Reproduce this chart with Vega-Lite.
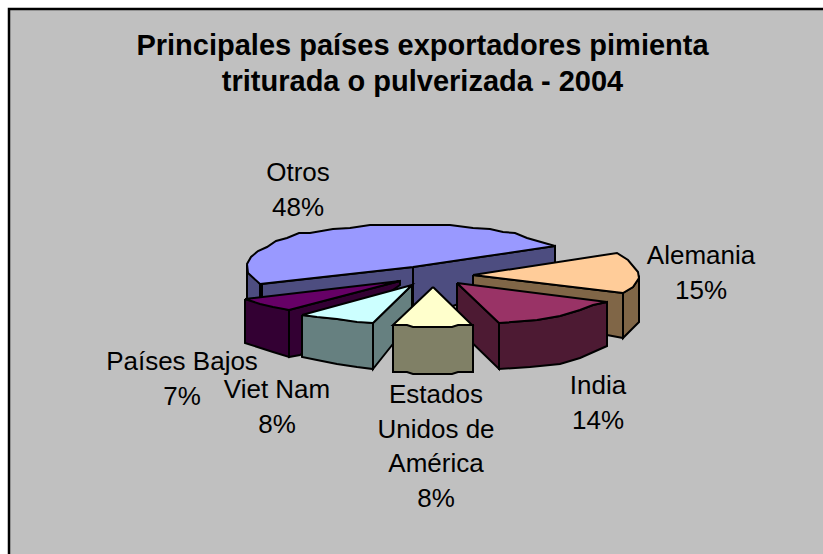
{
"$schema":"https://vega.github.io/schema/vega-lite/v6.json",
"width":823,"height":554,"padding":0,"autosize":"none","background":"white",
"view":{"stroke":null},
"config":{"font":"Liberation Sans"},
"title":{"text":["Principales países exportadores pimienta","triturada o pulverizada - 2004"],"font":"Liberation Sans","fontSize":29,"fontWeight":"bold","color":"black","lineHeight":36,"anchor":"middle","offset":-97,"dx":11},
"datasets":{
"frame":[{"x":9,"x2":823,"y":9,"y2":554}],
"edge":[{"x":9,"y":554,"s":1},{"x":9,"y":9,"s":2},{"x":823,"y":9,"s":3}],
"labels":[
{"pais":"Otros","pct":48,"label":"Otros\n48%","x":298,"y":160},
{"pais":"Alemania","pct":15,"label":"Alemania\n15%","x":701,"y":243},
{"pais":"India","pct":14,"label":"India\n14%","x":598,"y":373},
{"pais":"Estados Unidos de América","pct":8,"label":"Estados\nUnidos de\nAmérica\n8%","x":436,"y":382},
{"pais":"Viet Nam","pct":8,"label":"Viet Nam\n8%","x":277,"y":377},
{"pais":"Países Bajos","pct":7,"label":"Países Bajos\n7%","x":182,"y":349}
],
"shapes":[
{"part":"Otros lado","s":1,"x":247,"y":265},{"part":"Otros lado","s":2,"x":260,"y":284},{"part":"Otros lado","s":3,"x":260,"y":310},{"part":"Otros lado","s":4,"x":247,"y":305},{"part":"Otros lado","s":5,"x":247,"y":265},
{"part":"Otros corte izq","s":1,"x":262,"y":284},{"part":"Otros corte izq","s":2,"x":413,"y":267},{"part":"Otros corte izq","s":3,"x":413,"y":320},{"part":"Otros corte izq","s":4,"x":262,"y":310},{"part":"Otros corte izq","s":5,"x":262,"y":284},
{"part":"Otros corte der","s":1,"x":413,"y":267},{"part":"Otros corte der","s":2,"x":555,"y":246},{"part":"Otros corte der","s":3,"x":555,"y":270},{"part":"Otros corte der","s":4,"x":413,"y":320},{"part":"Otros corte der","s":5,"x":413,"y":267},
{"part":"Otros","s":1,"x":555,"y":246},{"part":"Otros","s":2,"x":413,"y":267},{"part":"Otros","s":3,"x":260,"y":284},{"part":"Otros","s":4,"x":248,"y":273},{"part":"Otros","s":5,"x":247,"y":264},{"part":"Otros","s":6,"x":251,"y":257},{"part":"Otros","s":7,"x":258,"y":251},{"part":"Otros","s":8,"x":267,"y":247},{"part":"Otros","s":9,"x":276,"y":241},{"part":"Otros","s":10,"x":287,"y":238},{"part":"Otros","s":11,"x":299,"y":233},{"part":"Otros","s":12,"x":310,"y":233},{"part":"Otros","s":13,"x":333,"y":229},{"part":"Otros","s":14,"x":350,"y":228},{"part":"Otros","s":15,"x":370,"y":225},{"part":"Otros","s":16,"x":450,"y":225},{"part":"Otros","s":17,"x":473,"y":228},{"part":"Otros","s":18,"x":490,"y":229},{"part":"Otros","s":19,"x":503,"y":232},{"part":"Otros","s":20,"x":515,"y":233},{"part":"Otros","s":21,"x":527,"y":238},{"part":"Otros","s":22,"x":555,"y":246},
{"part":"Alemania frente","s":1,"x":473,"y":275},{"part":"Alemania frente","s":2,"x":623,"y":293},{"part":"Alemania frente","s":3,"x":623,"y":338},{"part":"Alemania frente","s":4,"x":607,"y":335},{"part":"Alemania frente","s":5,"x":473,"y":300},{"part":"Alemania frente","s":6,"x":473,"y":275},
{"part":"Alemania lado","s":1,"x":623,"y":293},{"part":"Alemania lado","s":2,"x":633,"y":287},{"part":"Alemania lado","s":3,"x":639,"y":278},{"part":"Alemania lado","s":4,"x":639,"y":322},{"part":"Alemania lado","s":5,"x":633,"y":328},{"part":"Alemania lado","s":6,"x":623,"y":338},{"part":"Alemania lado","s":7,"x":623,"y":293},
{"part":"Alemania","s":1,"x":473,"y":275},{"part":"Alemania","s":2,"x":617,"y":253},{"part":"Alemania","s":3,"x":628,"y":260},{"part":"Alemania","s":4,"x":638,"y":272},{"part":"Alemania","s":5,"x":639,"y":278},{"part":"Alemania","s":6,"x":633,"y":287},{"part":"Alemania","s":7,"x":623,"y":293},{"part":"Alemania","s":8,"x":473,"y":275},
{"part":"India corte","s":1,"x":457,"y":283},{"part":"India corte","s":2,"x":499,"y":323},{"part":"India corte","s":3,"x":499,"y":369},{"part":"India corte","s":4,"x":457,"y":328},{"part":"India corte","s":5,"x":457,"y":283},
{"part":"India frente","s":1,"x":499,"y":323},{"part":"India frente","s":2,"x":537,"y":320},{"part":"India frente","s":3,"x":560,"y":316},{"part":"India frente","s":4,"x":580,"y":310},{"part":"India frente","s":5,"x":593,"y":305},{"part":"India frente","s":6,"x":607,"y":302},{"part":"India frente","s":7,"x":607,"y":346},{"part":"India frente","s":8,"x":580,"y":358},{"part":"India frente","s":9,"x":560,"y":364},{"part":"India frente","s":10,"x":530,"y":367},{"part":"India frente","s":11,"x":499,"y":369},{"part":"India frente","s":12,"x":499,"y":323},
{"part":"India","s":1,"x":457,"y":283},{"part":"India","s":2,"x":607,"y":302},{"part":"India","s":3,"x":593,"y":305},{"part":"India","s":4,"x":580,"y":310},{"part":"India","s":5,"x":560,"y":316},{"part":"India","s":6,"x":537,"y":320},{"part":"India","s":7,"x":499,"y":323},{"part":"India","s":8,"x":457,"y":283},
{"part":"Países Bajos frente","s":1,"x":245,"y":299},{"part":"Países Bajos frente","s":2,"x":289,"y":310},{"part":"Países Bajos frente","s":3,"x":289,"y":357},{"part":"Países Bajos frente","s":4,"x":273,"y":352},{"part":"Países Bajos frente","s":5,"x":245,"y":343},{"part":"Países Bajos frente","s":6,"x":245,"y":299},
{"part":"Países Bajos corte","s":1,"x":289,"y":310},{"part":"Países Bajos corte","s":2,"x":400,"y":281},{"part":"Países Bajos corte","s":3,"x":400,"y":285},{"part":"Países Bajos corte","s":4,"x":300,"y":355},{"part":"Países Bajos corte","s":5,"x":289,"y":357},{"part":"Países Bajos corte","s":6,"x":289,"y":310},
{"part":"Países Bajos","s":1,"x":245,"y":299},{"part":"Países Bajos","s":2,"x":400,"y":281},{"part":"Países Bajos","s":3,"x":289,"y":310},{"part":"Países Bajos","s":4,"x":273,"y":307},{"part":"Países Bajos","s":5,"x":260,"y":304},{"part":"Países Bajos","s":6,"x":245,"y":299},
{"part":"Viet Nam frente","s":1,"x":302,"y":315},{"part":"Viet Nam frente","s":2,"x":373,"y":323},{"part":"Viet Nam frente","s":3,"x":373,"y":369},{"part":"Viet Nam frente","s":4,"x":357,"y":367},{"part":"Viet Nam frente","s":5,"x":337,"y":364},{"part":"Viet Nam frente","s":6,"x":317,"y":360},{"part":"Viet Nam frente","s":7,"x":302,"y":357},{"part":"Viet Nam frente","s":8,"x":302,"y":315},
{"part":"Viet Nam corte","s":1,"x":373,"y":323},{"part":"Viet Nam corte","s":2,"x":412,"y":285},{"part":"Viet Nam corte","s":3,"x":412,"y":320},{"part":"Viet Nam corte","s":4,"x":373,"y":369},{"part":"Viet Nam corte","s":5,"x":373,"y":323},
{"part":"Viet Nam","s":1,"x":302,"y":315},{"part":"Viet Nam","s":2,"x":412,"y":285},{"part":"Viet Nam","s":3,"x":373,"y":323},{"part":"Viet Nam","s":4,"x":357,"y":322},{"part":"Viet Nam","s":5,"x":337,"y":319},{"part":"Viet Nam","s":6,"x":317,"y":317},{"part":"Viet Nam","s":7,"x":302,"y":315},
{"part":"Estados Unidos frente","s":1,"x":393,"y":325},{"part":"Estados Unidos frente","s":2,"x":473,"y":325},{"part":"Estados Unidos frente","s":3,"x":473,"y":372},{"part":"Estados Unidos frente","s":4,"x":458,"y":372},{"part":"Estados Unidos frente","s":5,"x":452,"y":374},{"part":"Estados Unidos frente","s":6,"x":413,"y":374},{"part":"Estados Unidos frente","s":7,"x":407,"y":372},{"part":"Estados Unidos frente","s":8,"x":393,"y":372},{"part":"Estados Unidos frente","s":9,"x":393,"y":325},
{"part":"Estados Unidos","s":1,"x":433,"y":287},{"part":"Estados Unidos","s":2,"x":472,"y":325},{"part":"Estados Unidos","s":3,"x":458,"y":325},{"part":"Estados Unidos","s":4,"x":452,"y":327},{"part":"Estados Unidos","s":5,"x":413,"y":327},{"part":"Estados Unidos","s":6,"x":407,"y":325},{"part":"Estados Unidos","s":7,"x":393,"y":325},{"part":"Estados Unidos","s":8,"x":433,"y":287}
]},
"layer":[
{"data":{"name":"frame"},"mark":{"type":"rect","fill":"#c0c0c0"},
 "encoding":{"x":{"field":"x","type":"quantitative","scale":{"domain":[0,823],"nice":false,"zero":false},"axis":null},"x2":{"field":"x2"},"y":{"field":"y","type":"quantitative","scale":{"domain":[554,0],"nice":false,"zero":false},"axis":null},"y2":{"field":"y2"}}},
{"data":{"name":"edge"},"mark":{"type":"line","stroke":"black","strokeWidth":2.5},
 "encoding":{"x":{"field":"x","type":"quantitative"},"y":{"field":"y","type":"quantitative"},"order":{"field":"s"}}},
{"data":{"name":"shapes"},"mark":{"type":"line","stroke":"black","strokeWidth":2,"strokeJoin":"miter","interpolate":"linear"},
 "encoding":{"x":{"field":"x","type":"quantitative"},"y":{"field":"y","type":"quantitative"},"order":{"field":"s"},
 "detail":{"field":"part"},
 "fill":{"field":"part","type":"nominal","legend":null,"scale":{
  "domain":["Otros lado","Otros corte izq","Otros corte der","Otros","Alemania frente","Alemania lado","Alemania","India corte","India frente","India","Países Bajos frente","Países Bajos corte","Países Bajos","Viet Nam frente","Viet Nam corte","Viet Nam","Estados Unidos frente","Estados Unidos"],
  "range":["#4d4d80","#4d4d80","#4d4d80","#9999ff","#806647","#806647","#ffcc99","#4d1a33","#4d1a33","#993366","#330033","#330033","#660066","#668080","#668080","#ccffff","#808066","#ffffcc"]}}}},
{"data":{"name":"labels"},"mark":{"type":"text","font":"Liberation Sans","fontSize":26,"lineBreak":"\n","lineHeight":34.5,"align":"center","baseline":"top","color":"black"},
 "encoding":{"x":{"field":"x","type":"quantitative"},"y":{"field":"y","type":"quantitative"},"text":{"field":"label"}}}
]
}
